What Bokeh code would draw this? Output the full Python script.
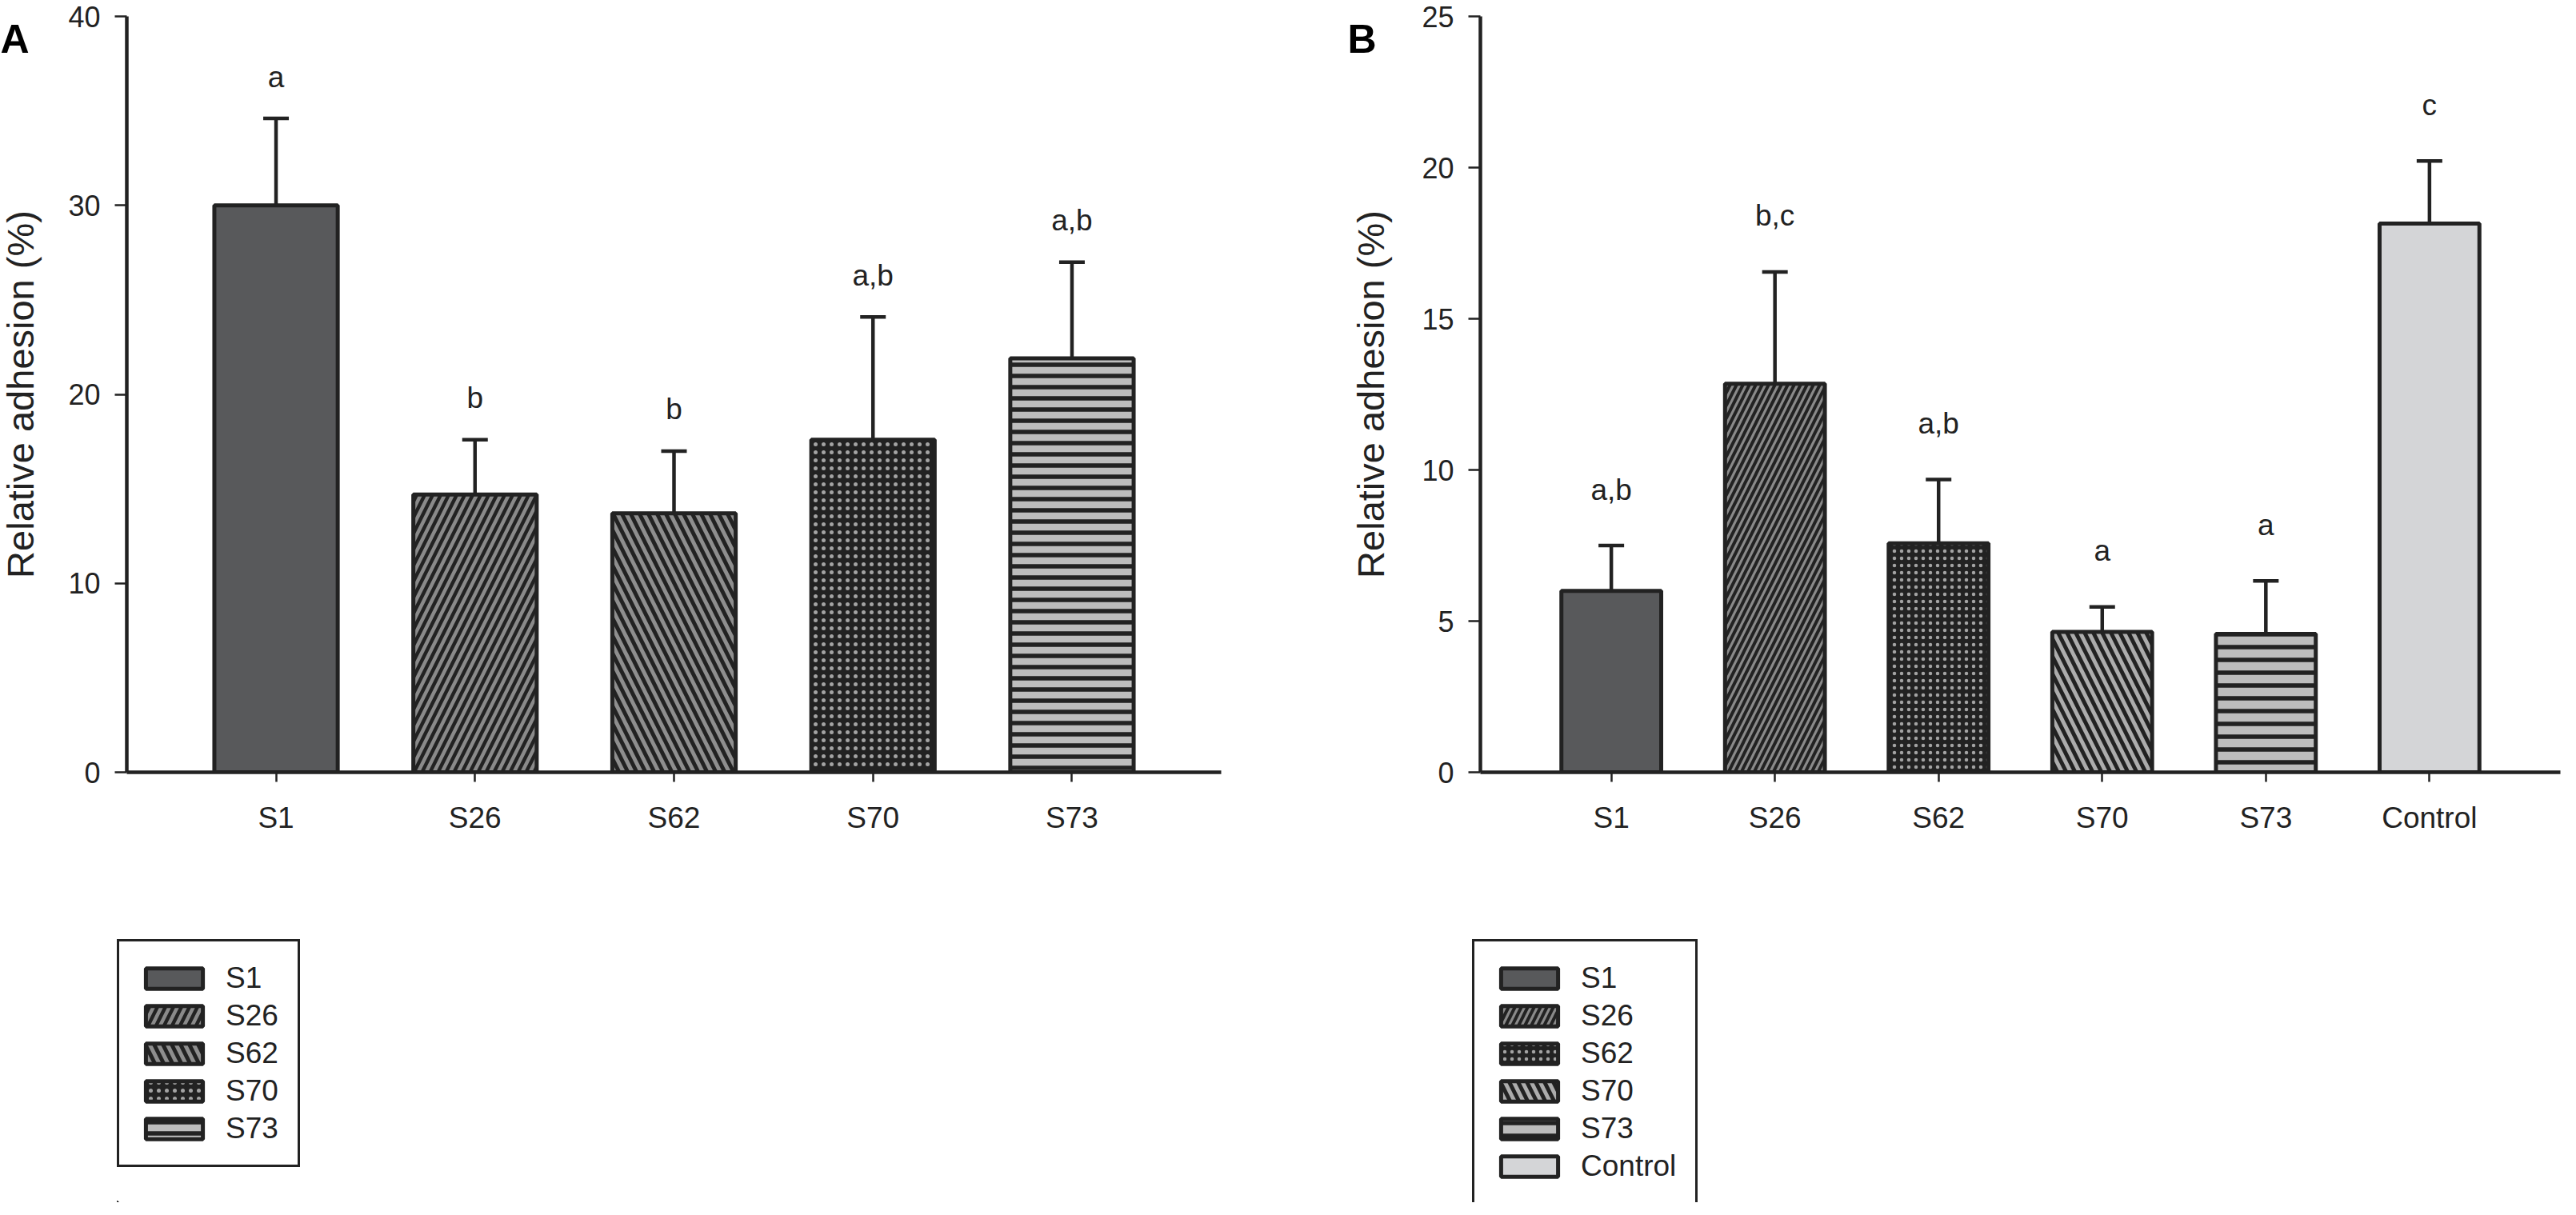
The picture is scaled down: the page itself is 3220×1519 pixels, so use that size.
import math
from bokeh.plotting import figure
from bokeh.models import (ColumnDataSource, FixedTicker, Range1d, Whisker, TeeHead,
                          Legend, LegendItem)
from bokeh.layouts import row, column
from bokeh.core.properties import value
from bokeh.embed import file_html
from bokeh.resources import INLINE

# ---------------- data ----------------
cats_a = ["S1", "S26", "S62", "S70", "S73"]
mean_a = [30.0, 14.7, 13.7, 17.6, 21.9]
errtop_a = [34.6, 17.6, 17.0, 24.1, 27.0]
letters_a = ["a", "b", "b", "a,b", "a,b"]
yticks_a = [0, 10, 20, 30, 40]

cats_b = ["S1", "S26", "S62", "S70", "S73", "Control"]
mean_b = [6.0, 12.85, 7.57, 4.64, 4.58, 18.15]
errtop_b = [7.5, 16.55, 9.68, 5.47, 6.33, 20.22]
letters_b = ["a,b", "b,c", "a,b", "a", "a", "c"]
yticks_b = [0, 5, 10, 15, 20, 25]

y_title = "Relative adhesion (%)"

# ---------------- styles ----------------
FONT = "Liberation Sans"
INK = "#222222"
DOT = "#a3a3a3"

style_a = dict(
    fill=["#58595b", "#8a8a8a", "#8e8e8e", "#222222", "#bdbdbd"],
    hatch=[" ", "/", "\\", ".", "-"],
    hcolor=[INK, INK, INK, DOT, INK],
    hscale=[14, 20, 22, 10, 14],
    hweight=[1, 4.5, 5, 4, 5.5],
)
style_b = dict(
    fill=["#58595b", "#8a8a8a", "#222222", "#acacac", "#bdbdbd", "#d4d5d7"],
    hatch=[" ", "/", ".", "\\", "-", " "],
    hcolor=[INK, INK, DOT, INK, INK, INK],
    hscale=[10, 16, 9, 22, 16, 10],
    hweight=[1, 4, 4, 5, 5.5, 1],
)

CH = 1142          # chart figure height
LH = 361           # legend figure height
BT = 20            # top border of chart
FRAME_H = 945      # chart frame height


def side_figure(width, tag, tag_x, label_x):
    """Narrow strip left of the axis holding the panel tag and the y title.
    Its frame lines up with the chart frame, so y runs over the frame height."""
    s = figure(width=width, height=CH, output_backend="svg", toolbar_location=None,
               x_range=Range1d(0, width), y_range=Range1d(0, FRAME_H),
               x_axis_location=None, y_axis_location=None,
               min_border_left=0, min_border_right=0, min_border_top=BT,
               min_border_bottom=CH - BT - FRAME_H)
    s.grid.visible = False
    s.outline_line_color = None
    s.text(x=[tag_x], y=[FRAME_H], text=[tag], text_align="left",
           text_baseline="top",
           text_font=value(FONT), text_font_size="50px", text_font_style="bold",
           text_color="black")
    s.text(x=[label_x], y=[FRAME_H / 2], text=[y_title], angle=math.pi / 2,
           text_align="center", text_baseline="middle",
           text_font=value(FONT), text_font_size="47px", text_color=INK)
    return s


def panel(cats, means, tops, letters, yticks, ymax, style, width, side_w, bl, br,
          xpad, bar_w, letter_off, tag, tag_x, label_x, leg_left):
    n = len(cats)
    idx = list(range(n))
    src = ColumnDataSource(dict(x=idx, top=means, err=tops, lab=letters, cat=cats,
                                fill=style["fill"], hatch=style["hatch"],
                                hcolor=style["hcolor"],
                                hscale=style["hscale"], hweight=style["hweight"]))
    bar_kw = dict(fill_color="fill", hatch_pattern="hatch", hatch_color="hcolor",
                  hatch_scale="hscale", hatch_weight="hweight",
                  line_color=INK, line_width=5)

    p = figure(width=width - side_w, height=CH, output_backend="svg",
               toolbar_location=None,
               x_range=Range1d(-xpad, n - 1 + xpad), y_range=Range1d(0, ymax),
               min_border_left=bl, min_border_right=br, min_border_top=BT,
               min_border_bottom=CH - BT - FRAME_H)
    p.grid.visible = False
    p.outline_line_color = None

    p.vbar(x="x", top="top", bottom=0, width=bar_w, source=src, **bar_kw)

    p.add_layout(Whisker(base="x", lower="top", upper="err", source=src,
                         dimension="height", line_color=INK, line_width=4.5,
                         lower_head=None,
                         upper_head=TeeHead(size=32, line_color=INK, line_width=4.5)))

    p.text(x="x", y="err", text="lab", source=src, text_align="center",
           text_baseline="alphabetic", y_offset=-letter_off,
           text_font=value(FONT), text_font_size="37px", text_color=INK)

    xa = p.xaxis[0]
    xa.ticker = FixedTicker(ticks=idx)
    xa.major_label_overrides = {i: c for i, c in enumerate(cats)}
    xa.minor_tick_line_color = None
    xa.major_tick_out = 12
    xa.major_tick_in = 0
    xa.major_tick_line_width = 2.5
    xa.major_tick_line_color = INK
    xa.axis_line_width = 4.5
    xa.axis_line_color = INK
    xa.major_label_text_font = FONT
    xa.major_label_text_font_size = "37px"
    xa.major_label_text_color = INK
    xa.major_label_standoff = 24

    ya = p.yaxis[0]
    ya.ticker = FixedTicker(ticks=yticks)
    ya.minor_tick_line_color = None
    ya.major_tick_out = 15
    ya.major_tick_in = 0
    ya.major_tick_line_width = 2.5
    ya.major_tick_line_color = INK
    ya.axis_line_width = 4.5
    ya.axis_line_color = INK
    ya.major_label_text_font = FONT
    ya.major_label_text_font_size = "36px"
    ya.major_label_text_color = INK
    ya.major_label_standoff = 18

    side = side_figure(side_w, tag, tag_x, label_x)

    # legend figure below the chart
    lf = figure(width=width, height=LH, output_backend="svg", toolbar_location=None,
                x_range=Range1d(1000, 1001), y_range=Range1d(1000, 1001),
                x_axis_location=None, y_axis_location=None,
                min_border_left=leg_left, min_border_right=0, min_border_top=32,
                min_border_bottom=0)
    lf.grid.visible = False
    lf.outline_line_color = None
    rl = lf.vbar(x="x", top="top", bottom=0, width=bar_w, source=src, **bar_kw)
    items = [LegendItem(label=c, renderers=[rl], index=i) for i, c in enumerate(cats)]
    leg = Legend(items=items, location="top_left", orientation="vertical",
                 glyph_width=89, glyph_height=32, label_height=43, spacing=4,
                 padding=24, margin=0, label_standoff=20,
                 label_text_font=FONT, label_text_font_size="37px",
                 label_text_color=INK, border_line_color=INK,
                 border_line_alpha=1.0, border_line_width=3,
                 background_fill_color="white", background_fill_alpha=1.0)
    lf.add_layout(leg, "center")
    return column(row(side, p, spacing=0), lf, spacing=0)


pA = panel(cats_a, mean_a, errtop_a, letters_a, yticks_a, 40, style_a,
           width=1680, side_w=54, bl=104, br=154, xpad=0.75, bar_w=0.62,
           letter_off=52, tag="A", tag_x=0, label_x=25, leg_left=146)
pB = panel(cats_b, mean_b, errtop_b, letters_b, yticks_b, 25, style_b,
           width=1524, side_w=62, bl=108, br=4, xpad=0.8, bar_w=0.61,
           letter_off=70, tag="B", tag_x=4, label_x=33, leg_left=160)

layout = row(pA, pB, spacing=0)
open("out.html", "w").write(file_html(layout, INLINE))
